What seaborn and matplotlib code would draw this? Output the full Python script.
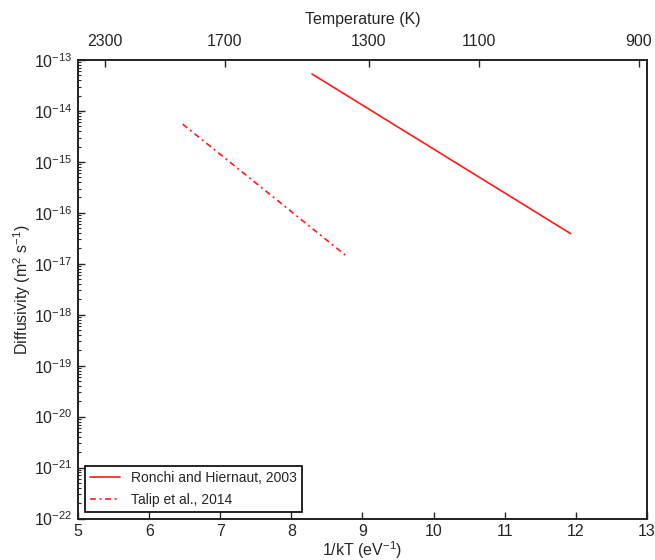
import numpy as np
import pandas as pd
import seaborn as sns
import matplotlib
matplotlib.use("Agg")
import matplotlib.pyplot as plt
from matplotlib.ticker import LogLocator, NullFormatter, FixedLocator

# Data
ronchi_x = [8.29, 11.93]
ronchi_y = [5.3e-14, 3.9e-17]
talip_x = [6.47, 8.78]
talip_y = [5.5e-15, 1.4e-17]
series_names = ["Ronchi and Hiernaut, 2003", "Talip et al., 2014"]

x_ticks = [5, 6, 7, 8, 9, 10, 11, 12, 13]
y_exponents = [-22, -21, -20, -19, -18, -17, -16, -15, -14, -13]
temp_labels = ["2300", "1700", "1300", "1100", "900"]
temp_positions = [5.376, 7.065, 9.09, 10.64, 12.89]

df = pd.DataFrame({
    "x": ronchi_x + talip_x,
    "y": ronchi_y + talip_y,
    "series": [series_names[0]] * len(ronchi_x) + [series_names[1]] * len(talip_x),
})

sns.set_style("ticks")
plt.rcParams["font.family"] = ["Liberation Sans", "DejaVu Sans"]
plt.rcParams["mathtext.fontset"] = "custom"
plt.rcParams["mathtext.rm"] = "Liberation Sans"
plt.rcParams["mathtext.it"] = "Liberation Sans:italic"
plt.rcParams["mathtext.bf"] = "Liberation Sans:bold"

fig = plt.figure(figsize=(6.55, 5.6), dpi=100)
ax = fig.add_axes([0.1195, 0.0741, 0.8678, 0.8188])

sns.lineplot(data=df, x="x", y="y", hue="series", style="series",
             palette=["#ff1a1a", "#ff1a1a"],
             dashes=[(None, None), (3.5, 2.2, 1.2, 2.2)],
             linewidth=1.2, ax=ax, legend=True, sort=False)

ax.set_yscale("log")
ax.set_xlim(5, 13)
ax.set_ylim(1e-22, 1e-13)
ax.set_xticks(x_ticks)
ax.set_xticklabels([str(t) for t in x_ticks])
ax.set_yticks([10.0 ** e for e in y_exponents])
ax.set_yticklabels([f"$10^{{{e}}}$".replace("-", "\u2212") for e in y_exponents])
minor_vals = [m * 10.0 ** e for e in y_exponents[:-1] for m in range(2, 10)]
ax.yaxis.set_minor_locator(FixedLocator(minor_vals))
ax.yaxis.set_minor_formatter(NullFormatter())

ax.tick_params(axis="both", which="major", direction="in", length=5, width=1,
               labelsize=11.5, pad=4, top=False, right=False)
ax.tick_params(axis="y", which="minor", direction="in", length=2.5, width=0.8, right=False)
ax.tick_params(axis="x", which="minor", bottom=False, top=False)

for sp in ax.spines.values():
    sp.set_linewidth(1.2)
    sp.set_color("black")

ax.set_xlabel("1/kT (eV$^{-1}$)", fontsize=11.5, labelpad=0)
ax.set_ylabel("Diffusivity (m$^{2}$ s$^{-1}$)", fontsize=11.5, labelpad=1)

# Top temperature axis
ax2 = ax.twiny()
ax2.set_xlim(ax.get_xlim())
ax2.set_xticks(temp_positions)
ax2.set_xticklabels(temp_labels)
ax2.tick_params(axis="x", which="major", direction="in", length=5, width=1,
                labelsize=11.5, pad=8)
ax2.set_xlabel("Temperature (K)", fontsize=11.5, labelpad=7)
for sp in ax2.spines.values():
    sp.set_linewidth(1.2)

leg = ax.legend(loc="lower left", frameon=True, fancybox=False, fontsize=10,
                edgecolor="black", framealpha=1, handlelength=2.15,
                handletextpad=0.8, borderpad=0.35, labelspacing=0.55,
                borderaxespad=0, bbox_to_anchor=(0.0123, 0.0148))
leg.get_frame().set_linewidth(1.2)

fig.savefig("out.png", dpi=100)
